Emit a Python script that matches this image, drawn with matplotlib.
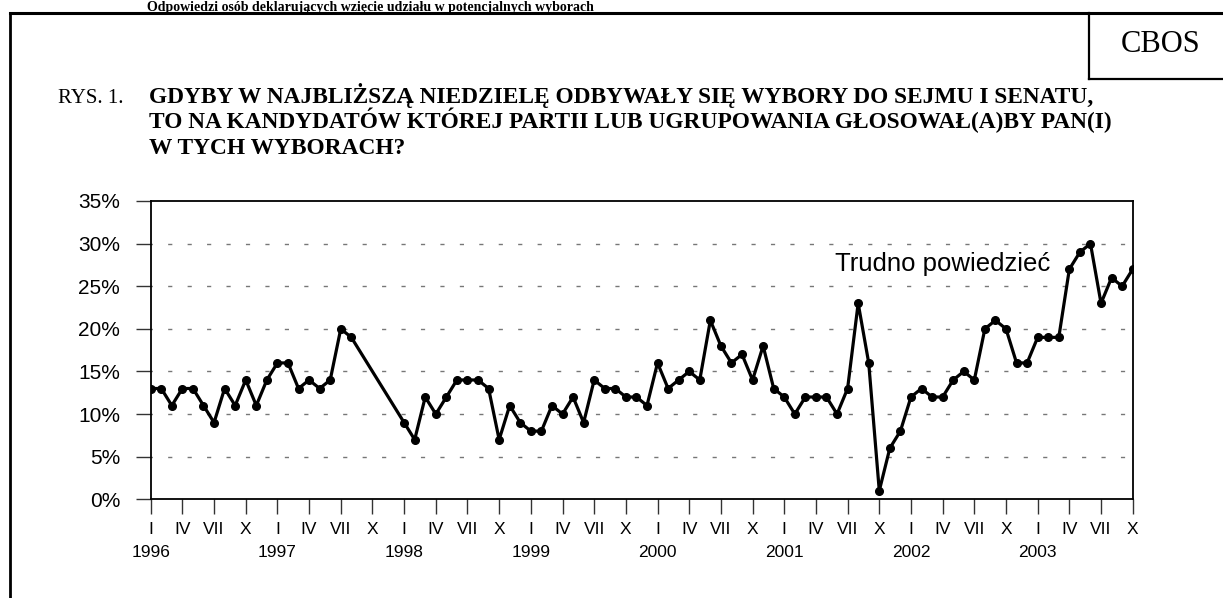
import matplotlib
matplotlib.use("Agg")
import matplotlib.pyplot as plt

# months Jan 1996 - Aug 1997, then Jan 1998 - Oct 2003 (no surveys in between)
seg1_start = (1996, 1)
seg1_vals = [13, 13, 11, 13, 13, 11, 9, 13, 11, 14, 11, 14,
             16, 16, 13, 14, 13, 14, 20, 19]
seg2_start = (1998, 1)
seg2_vals = [9, 7, 12, 10, 12, 14, 14, 14, 13, 7, 11, 9,
             8, 8, 11, 10, 12, 9, 14, 13, 13, 12, 12, 11,
             16, 13, 14, 15, 14, 21, 18, 16, 17, 14, 18, 13,
             12, 10, 12, 12, 12, 10, 13, 23, 16, 1, 6, 8,
             12, 13, 12, 12, 14, 15, 14, 20, 21, 20, 16, 16,
             19, 19, 19, 27, 29, 30, 23, 26, 25, 27]

years = [1996, 1997, 1998, 1999, 2000, 2001, 2002, 2003]
quarter_labels = ["I", "IV", "VII", "X"]
y_ticks = [0, 5, 10, 15, 20, 25, 30, 35]

title_top = "Odpowiedzi osób deklarujących wzięcie udziału w potencjalnych wyborach"
fig_label = "RYS. 1."
question = ["GDYBY W NAJBLIŻSZĄ NIEDZIELĘ ODBYWAŁY SIĘ WYBORY DO SEJMU I SENATU,",
            "TO NA KANDYDATÓW KTÓREJ PARTII LUB UGRUPOWANIA GŁOSOWAŁ(A)BY PAN(I)",
            "W TYCH WYBORACH?"]
series_label = "Trudno powiedzieć"


def month_index(start, n):
    y0, m0 = start
    base = (y0 - years[0]) * 12 + (m0 - 1)
    return list(range(base, base + n))


x = month_index(seg1_start, len(seg1_vals)) + month_index(seg2_start, len(seg2_vals))
y = seg1_vals + seg2_vals

W, H = 1223, 598
fig = plt.figure(figsize=(W / 100, H / 100), dpi=100)
sans = "Liberation Sans"
serif = "Liberation Serif"


def fx(px):
    return px / W


def fy(py):  # pixels from top -> figure fraction
    return 1 - py / H


ax = fig.add_axes([fx(150.7), fy(499.3), fx(1132.7 - 150.7), (499.3 - 201) / H])
ax.plot(x, y, color="black", lw=2.3, marker="o", ms=5.5, zorder=3)

ax.set_xlim(0, (years[-1] - years[0]) * 12 + 9)
ax.set_ylim(0, 35)
ax.set_yticks(y_ticks)
ax.set_yticklabels([f"{v}%" for v in y_ticks], fontsize=15, family=sans)
for v in y_ticks[1:-1]:
    ax.axhline(v, color="#777777", lw=1, ls=(2, (3, 11)), zorder=1)

xt, xl = [], []
for i, yr in enumerate(years):
    for q, lab in enumerate(quarter_labels):
        m = i * 12 + q * 3
        if m <= ax.get_xlim()[1]:
            xt.append(m)
            xl.append(lab)
ax.set_xticks(xt)
ax.set_xticklabels(xl, fontsize=12.5, family=sans)
ax.tick_params(axis="both", direction="out", length=11, width=1, color="#333333")
ax.tick_params(axis="x", pad=5)
ax.tick_params(axis="y", pad=11)
for yr_i, yr in enumerate(years):
    ax.text(yr_i * 12, -0.178, str(yr), transform=ax.get_xaxis_transform(),
            ha="center", va="center", fontsize=12.5, family=sans)
for s in ax.spines.values():
    s.set_linewidth(1.3)

fig.text(fx(835), fy(264.3), series_label, fontsize=18.5, family=sans,
         ha="left", va="center")

# page frame and header
fig.add_artist(plt.Line2D([fx(10), 1], [fy(13), fy(13)], color="black", lw=2.2))
fig.add_artist(plt.Line2D([fx(10), fx(10)], [0, fy(13)], color="black", lw=2))
fig.add_artist(plt.Line2D([fx(1088.7), fx(1088.7)], [fy(13), fy(78.7)], color="black", lw=1.6))
fig.add_artist(plt.Line2D([fx(1088.7), 1], [fy(78.7), fy(78.7)], color="black", lw=1.6))
fig.text(fx(1161), fy(44), "CBOS", ha="center", va="center", fontsize=22, family=serif)

fig.text(fx(147), fy(0.5), title_top, ha="left", va="top", fontsize=10,
         family=serif, weight="bold")
fig.text(fx(58), fy(103), fig_label, ha="left", va="baseline", fontsize=15, family=serif)
for i, line in enumerate(question):
    fig.text(fx(149), fy(103 + 25.5 * i), line, ha="left", va="baseline", fontsize=16.8,
             family=serif, weight="bold")

fig.savefig("out.png", dpi=100)
